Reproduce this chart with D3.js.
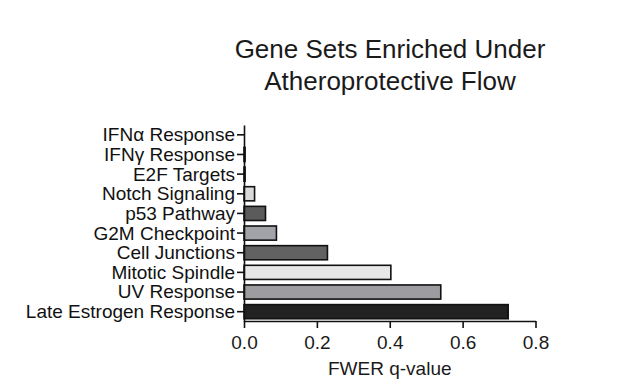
<!DOCTYPE html>
<html>
<head>
<meta charset="utf-8">
<script src="https://cdn.jsdelivr.net/npm/d3@7"></script>
<style>
  body { margin: 0; background: #fff; }
  svg { font-family: "Liberation Sans", Arial, sans-serif; }
</style>
</head>
<body>
<div id="chart"></div>
<script>
// values
const geneSets = ["IFN\u03b1 Response", "IFN\u03b3 Response", "E2F Targets", "Notch Signaling",
  "p53 Pathway", "G2M Checkpoint", "Cell Junctions", "Mitotic Spindle", "UV Response",
  "Late Estrogen Response"];
const qValues = [0, 0.003, 0.003, 0.029, 0.059, 0.089, 0.229, 0.403, 0.540, 0.725];
const barFills = ["#ffffff", "#333333", "#333333", "#d9d9d9", "#5b5b5b", "#a2a3a9",
  "#626262", "#e7e7e7", "#9d9da1", "#222222"];
const xTicks = [0, 0.2, 0.4, 0.6, 0.8];
const titleLines = ["Gene Sets Enriched Under", "Atheroprotective Flow"];
const xTitle = "FWER q-value";

const width = 617, height = 391;
const margin = { top: 125, right: 82, bottom: 70, left: 244 };

const rows = geneSets.map((name, i) => ({ name: name, value: qValues[i], fill: barFills[i] }));

const svg = d3.select("#chart")
  .append("svg")
  .attr("width", width)
  .attr("height", height);

const x = d3.scaleLinear()
  .domain([0, 0.8])
  .range([margin.left, width - margin.right + 0.5]);

const y = d3.scaleBand()
  .domain(geneSets)
  .range([margin.top, height - margin.bottom + 0.5])
  .paddingInner(0.28)
  .paddingOuter(0.14);

// title
svg.append("g")
  .selectAll("text")
  .data(titleLines)
  .join("text")
  .attr("x", 390)
  .attr("y", (d, i) => 58 + i * 32)
  .attr("text-anchor", "middle")
  .attr("font-size", 26)
  .attr("fill", "#1a1a1a")
  .text(d => d);

// bars
svg.append("g")
  .selectAll("rect")
  .data(rows.filter(d => d.value > 0))
  .join("rect")
  .attr("x", x(0))
  .attr("y", d => y(d.name))
  .attr("width", d => x(d.value) - x(0))
  .attr("height", y.bandwidth())
  .attr("fill", d => d.fill)
  .attr("stroke", "#111")
  .attr("stroke-width", 1.6);

// x axis
const xAxis = svg.append("g")
  .attr("transform", "translate(0," + (height - margin.bottom) + ")")
  .call(d3.axisBottom(x).tickValues(xTicks).tickFormat(d3.format(".1f")).tickSize(7).tickSizeOuter(0));
xAxis.select(".domain").attr("stroke", "#111").attr("stroke-width", 1.6);
xAxis.selectAll(".tick line").attr("stroke", "#111").attr("stroke-width", 1.6);
xAxis.selectAll(".tick text")
  .attr("font-size", 19)
  .attr("font-family", "Liberation Sans, Arial, sans-serif")
  .attr("fill", "#1a1a1a")
  .attr("dy", "0.95em");

// y axis
const yAxis = svg.append("g")
  .attr("transform", "translate(" + x(0) + ",0)")
  .call(d3.axisLeft(y).tickSize(7).tickSizeOuter(0).tickPadding(2));
yAxis.select(".domain").attr("stroke", "#111").attr("stroke-width", 1.6);
yAxis.selectAll(".tick line").attr("stroke", "#111").attr("stroke-width", 1.6);
yAxis.selectAll(".tick text")
  .attr("font-size", 19)
  .attr("font-family", "Liberation Sans, Arial, sans-serif")
  .attr("fill", "#111")
  .attr("dy", "0.34em");

// axis title
svg.append("text")
  .attr("x", (x(0) + x(0.8)) / 2)
  .attr("y", 375)
  .attr("text-anchor", "middle")
  .attr("font-size", 19)
  .attr("fill", "#1a1a1a")
  .text(xTitle);
</script>
</body>
</html>
